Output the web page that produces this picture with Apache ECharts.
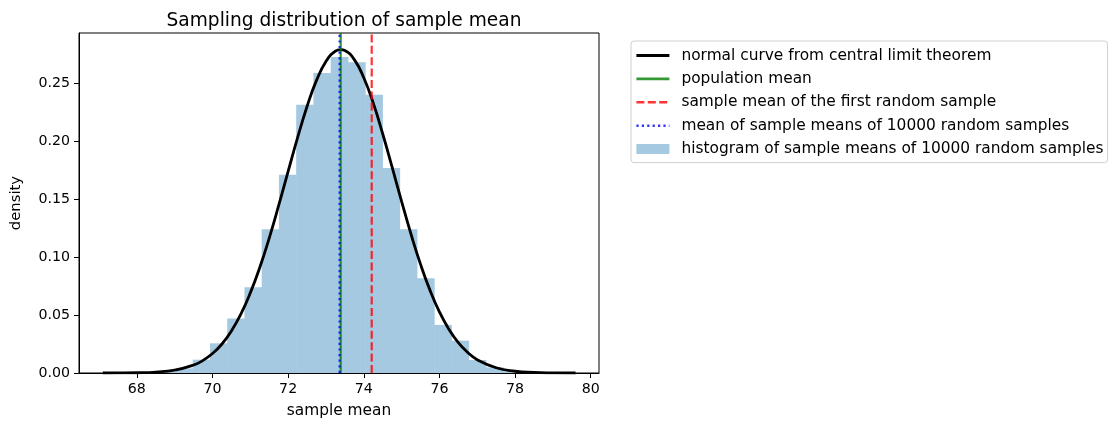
<!DOCTYPE html>
<html>
<head>
<meta charset="utf-8">
<script src="https://cdn.jsdelivr.net/npm/echarts@6/dist/echarts.min.js"></script>
<style>
html,body{margin:0;padding:0;background:#fff;}
#chart{width:1111px;height:423px;}
</style>
</head>
<body>
<div id="chart"></div>
<script>
// ---- data ----
const binEdges = [68.565, 69.021, 69.477, 69.933, 70.389, 70.845, 71.301, 71.757, 72.213, 72.669,
  73.125, 73.581, 74.037, 74.493, 74.949, 75.405, 75.861, 76.317, 76.773, 77.229, 77.685, 78.141, 78.597];
const binHeights = [0.001, 0.004, 0.0115, 0.0256, 0.047, 0.074, 0.124, 0.171, 0.2314, 0.2588,
  0.2726, 0.268, 0.240, 0.1768, 0.124, 0.0818, 0.0415, 0.0279, 0.0112, 0.0049, 0.0015, 0.0004];

const curveX = [67.1, 67.5, 68, 68.5, 69, 69.5, 69.75, 70, 70.25, 70.5, 70.75, 71, 71.25, 71.5, 71.75,
  72, 72.25, 72.5, 72.75, 73, 73.25, 73.39, 73.5, 73.75, 74, 74.25, 74.5, 74.75, 75, 75.25, 75.5,
  75.75, 76, 76.25, 76.5, 76.75, 77, 77.5, 78, 78.5, 79, 79.6];
const curveY = [0.00002, 0.00006, 0.00023, 0.00081, 0.0025, 0.0069, 0.0109, 0.0168, 0.025, 0.0362, 0.0508,
  0.0691, 0.091, 0.1164, 0.1445, 0.174, 0.2031, 0.2299, 0.2524, 0.2688, 0.2777, 0.279, 0.2782,
  0.2703, 0.2547, 0.2329, 0.2064, 0.1775, 0.148, 0.1197, 0.0939, 0.0715, 0.0528, 0.0378, 0.0262,
  0.0177, 0.0115, 0.0045, 0.0015, 0.00047, 0.00013, 0.00002];

const populationMean = 73.39;
const firstSampleMean = 74.21;
const meanOfSampleMeans = 73.36;

const xTicks = [68, 70, 72, 74, 76, 78, 80];
const yTicks = [0, 0.05, 0.10, 0.15, 0.20, 0.25];
const xRange = [66.47, 80.22];
const yRange = [0, 0.2933];

const names = {
  curve: 'normal curve from central limit theorem',
  pop: 'population mean',
  first: 'sample mean of the first random sample',
  mom: 'mean of sample means of 10000 random samples',
  hist: 'histogram of sample means of 10000 random samples'
};

// ---- build ----
const histData = binHeights.map((h, i) => [binEdges[i], binEdges[i + 1], h]);
const curveData = curveX.map((x, i) => [x, curveY[i]]);
const vline = v => [[v, yRange[0]], [v, yRange[1]]];
const FONT = 'DejaVu Sans';
const HIST_COLOR = 'rgb(165,201,225)';
const noSymbol = {opacity: 0};

const chart = echarts.init(document.getElementById('chart'), null, {renderer: 'canvas'});
chart.setOption({
  animation: false,
  backgroundColor: '#fff',
  textStyle: {fontFamily: FONT},
  title: {
    text: 'Sampling distribution of sample mean',
    left: 339, top: 7, textAlign: 'center',
    textStyle: {fontFamily: FONT, fontSize: 18.6, fontWeight: 'normal', color: '#000'}
  },
  grid: {
    left: 79, right: 512, top: 33, bottom: 50,
    show: true, borderColor: '#000', borderWidth: 1, backgroundColor: 'transparent'
  },
  legend: {
    orient: 'vertical', left: 631, top: 41,
    padding: [7, 4, 6, 4], itemGap: 8.4,
    itemWidth: 33, itemHeight: 10,
    backgroundColor: '#fff', borderColor: '#d0d0d0', borderWidth: 1, borderRadius: 3,
    textStyle: {fontFamily: FONT, fontSize: 15.4, color: '#000', lineHeight: 14, padding: [0, 0, 0, 7]},
    data: [
      {name: names.curve, itemStyle: noSymbol, lineStyle: {width: 2.8}},
      {name: names.pop, itemStyle: noSymbol, lineStyle: {width: 2.6}},
      {name: names.first, itemStyle: noSymbol, lineStyle: {width: 2.6, type: [8, 3.4]}},
      {name: names.mom, itemStyle: noSymbol, lineStyle: {width: 2.6, type: [2.2, 3.2]}},
      {name: names.hist, icon: 'rect'}
    ]
  },
  xAxis: {
    type: 'value', min: xRange[0], max: xRange[1],
    name: 'sample mean', nameLocation: 'middle', nameGap: 30,
    nameTextStyle: {fontFamily: FONT, fontSize: 15.4, color: '#000'},
    splitLine: {show: false},
    axisLine: {show: true, onZero: false, lineStyle: {color: '#000', width: 1}},
    axisTick: {show: true, length: 5, lineStyle: {color: '#000'}, customValues: xTicks},
    axisLabel: {fontFamily: FONT, fontSize: 14.2, color: '#000', margin: 9, customValues: xTicks,
      formatter: v => String(Math.round(v))}
  },
  yAxis: {
    type: 'value', min: yRange[0], max: yRange[1],
    name: 'density', nameLocation: 'middle', nameGap: 55, nameRotate: 90,
    nameTextStyle: {fontFamily: FONT, fontSize: 14.8, color: '#000'},
    splitLine: {show: false},
    axisLine: {show: true, onZero: false, lineStyle: {color: '#000', width: 1}},
    axisTick: {show: true, length: 5, lineStyle: {color: '#000'}, customValues: yTicks},
    axisLabel: {fontFamily: FONT, fontSize: 14.2, color: '#000', margin: 9, customValues: yTicks,
      formatter: v => v.toFixed(2)}
  },
  series: [
    {
      name: names.hist, type: 'custom', z: 1,
      itemStyle: {color: HIST_COLOR},
      encode: {x: [0, 1], y: 2},
      data: histData,
      renderItem: function (params, api) {
        const p0 = api.coord([api.value(0), api.value(2)]);
        const p1 = api.coord([api.value(1), 0]);
        return {
          type: 'rect',
          shape: {x: p0[0], y: p0[1], width: p1[0] - p0[0] + 0.5, height: p1[1] - p0[1]},
          style: {fill: HIST_COLOR}
        };
      }
    },
    {
      name: names.curve, type: 'line', z: 3, showSymbol: false, symbol: 'none', smooth: true,
      data: curveData, color: '#000',
      lineStyle: {color: '#000', width: 2.8}
    },
    {
      name: names.pop, type: 'line', z: 4, symbol: 'none', data: vline(populationMean),
      color: 'rgba(0,128,0,0.8)',
      lineStyle: {color: 'rgba(0,128,0,0.8)', width: 2.2}
    },
    {
      name: names.first, type: 'line', z: 4, symbol: 'none', data: vline(firstSampleMean),
      color: 'rgba(255,0,0,0.8)',
      lineStyle: {color: 'rgba(255,0,0,0.8)', width: 2.2, type: [8, 3.4]}
    },
    {
      name: names.mom, type: 'line', z: 4, symbol: 'none', data: vline(meanOfSampleMeans),
      color: 'rgba(0,0,255,0.8)',
      lineStyle: {color: 'rgba(0,0,255,0.8)', width: 2.2, type: [2.2, 3.4]}
    }
  ]
});
</script>
</body>
</html>
